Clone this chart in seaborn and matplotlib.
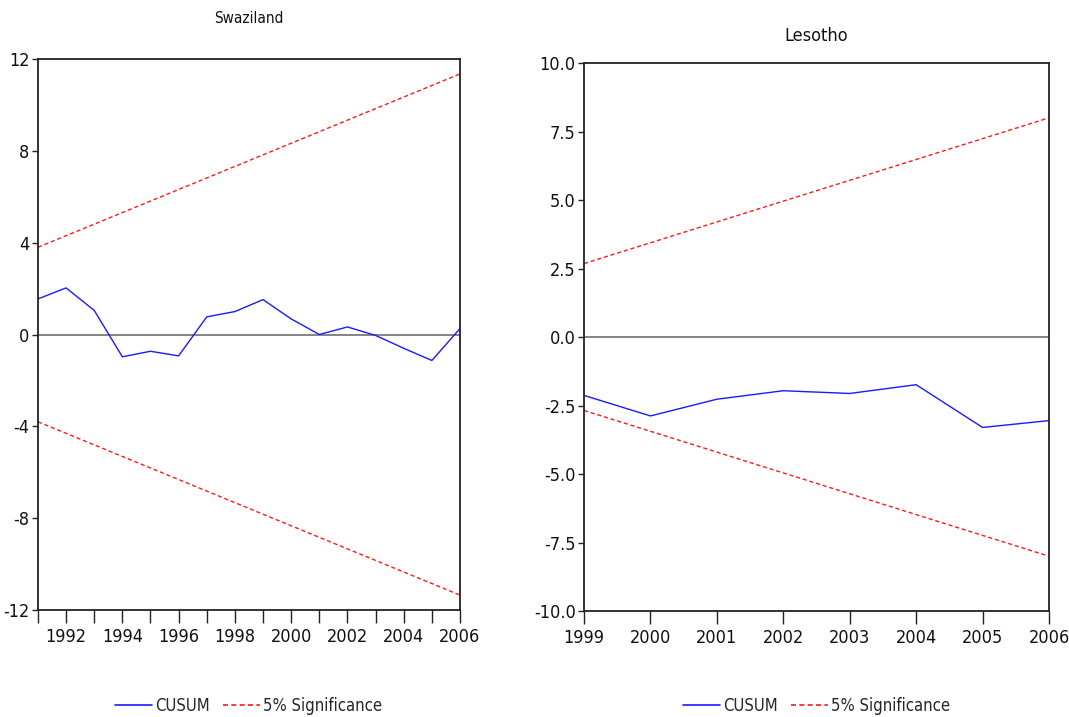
"""
CUSUM stability test plots for Swaziland and Lesotho.
"""
import pandas as pd
import matplotlib
matplotlib.use("Agg")
import matplotlib.pyplot as plt
from matplotlib.lines import Line2D
import seaborn as sns

# Swaziland
swz_years = list(range(1991, 2007))
swz_cusum = [1.55, 2.03, 1.05, -0.97, -0.73, -0.93, 0.77, 1.0,
             1.52, 0.68, 0.0, 0.33, -0.04, -0.6, -1.13, 0.26]
swz_sig_start = 3.8
swz_sig_end = 11.35
swz_yticks = [-12, -8, -4, 0, 4, 8, 12]

# Lesotho
les_years = list(range(1999, 2007))
les_cusum = [-2.13, -2.88, -2.27, -1.96, -2.06, -1.74, -3.30, -3.05]
les_sig_start = 2.68
les_sig_end = 8.0
les_yticks = [-10.0, -7.5, -5.0, -2.5, 0.0, 2.5, 5.0, 7.5, 10.0]


def sig_band(years, start, end):
    n = len(years) - 1
    upper = [start + (end - start) * i / n for i in range(len(years))]
    return upper, [-u for u in upper]


def main():
    sns.set_theme(style="white")
    plt.rcParams['font.family'] = ['DejaVu Sans']
    plt.rcParams['font.stretch'] = 'condensed'

    fig = plt.figure(figsize=(10.69, 7.17), dpi=100)
    ax1 = fig.add_axes([0.0355, 0.1492, 0.3948, 0.7685])
    ax2 = fig.add_axes([0.5463, 0.1478, 0.4350, 0.7643])

    panels = [
        (ax1, "Swaziland", swz_years, swz_cusum, swz_sig_start, swz_sig_end,
         swz_yticks, (-12, 12), 11, 26, lambda v: f"{v:d}", True),
        (ax2, "Lesotho", les_years, les_cusum, les_sig_start, les_sig_end,
         les_yticks, (-10, 10), 13, 16, lambda v: f"{v:.1f}", False),
    ]

    for (ax, name, years, cusum, s0, s1, yticks, ylim, tsize, tpad,
         fmt, even_only) in panels:
        upper, lower = sig_band(years, s0, s1)
        df = pd.DataFrame({"year": years, "cusum": cusum,
                           "upper": upper, "lower": lower})

        ax.axhline(0, color="#707070", linewidth=1.2, zorder=1)
        sns.lineplot(data=df, x="year", y="cusum", ax=ax, color="#1a1aff",
                     linewidth=1.0, label="CUSUM")
        sns.lineplot(data=df, x="year", y="upper", ax=ax, color="#ff1a1a",
                     linewidth=1.0, dashes=(3, 2), label="5% Significance")
        sns.lineplot(data=df, x="year", y="lower", ax=ax, color="#ff1a1a",
                     linewidth=1.0, dashes=(3, 2), label="_nolegend_")

        ax.set_xlim(years[0], years[-1])
        ax.set_ylim(*ylim)
        ax.set_xticks(years)
        if even_only:
            ax.set_xticklabels([str(y) if y % 2 == 0 else "" for y in years])
        else:
            ax.set_xticklabels([str(y) for y in years])
        ax.set_yticks(yticks)
        ax.set_yticklabels([fmt(v) for v in yticks])
        ax.set_xlabel("")
        ax.set_ylabel("")
        ax.tick_params(axis="both", direction="out", length=4, width=1,
                       color="#222222", labelsize=13, labelcolor="#111111",
                       left=True, bottom=True, pad=2)
        ax.tick_params(axis="x", length=9, pad=4)
        for sp in ax.spines.values():
            sp.set_color("#222222")
            sp.set_linewidth(1.3)
        ax.set_title(name, fontsize=tsize, pad=tpad, color="#111111")

        handles = [Line2D([], [], color="#1a1aff", lw=1.2),
                   Line2D([], [], color="#ff1a1a", lw=1.2, dashes=(3, 2))]
        ax.legend(handles, ["CUSUM", "5% Significance"], loc="upper center",
                  bbox_to_anchor=(0.5, -0.13), ncol=2, frameon=False,
                  fontsize=12, handlelength=2.2, columnspacing=0.8,
                  handletextpad=0.2)

    fig.savefig("out.png", dpi=100)
    plt.close(fig)


if __name__ == "__main__":
    main()
